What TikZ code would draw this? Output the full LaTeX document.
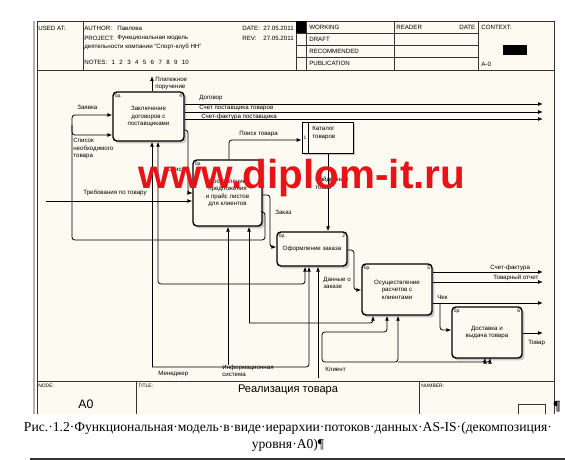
\documentclass[tikz,border=0pt]{standalone}
\usepackage{fontspec}
\setmainfont{Liberation Sans}
\newfontfamily\capfont{Liberation Serif}
\usetikzlibrary{arrows.meta,shadows}

\definecolor{paper}{RGB}{253,250,242}
\definecolor{wmred}{RGB}{233,18,24}
\newcommand\smallfnt{\fontsize{3.5}{4.3}\selectfont}
\newcommand\tinyfnt{\fontsize{2.8}{3.4}\selectfont}

\tikzset{
  func/.style={draw, line width=0.8pt, rounded corners=2.2pt, fill=paper,
    align=center, font=\smallfnt, inner sep=1pt,
    drop shadow={shadow xshift=1.4pt, shadow yshift=-1.4pt, fill=gray!45, opacity=1}},
  fnum/.style={label={[font=\tinyfnt, inner sep=1.3pt, anchor=north east]north east:#1},
    label={[font=\tinyfnt, inner sep=1.3pt, anchor=north west]north west:0р.}},
  lbl/.style={font=\smallfnt, inner sep=0pt, align=left},
  hdr/.style={font=\smallfnt, inner sep=0pt, anchor=west},
  arr/.style={line width=0.45pt, rounded corners=1.6pt, -{Latex[length=2.8pt,width=2.2pt]}},
  frm/.style={line width=0.5pt, draw=black!80},
}

\begin{document}
\begin{tikzpicture}[x=0.02cm, y=-0.02cm]
\useasboundingbox (0,0) rectangle (565,460);
\fill[white] (0,0) rectangle (565,460);
\fill[paper] (37,21) rectangle (554,414);

% Рамка бланка
\draw[gray!60, line width=1.2pt] (34,21) -- (34,414);
\draw[frm] (37,414) -- (37,21) -- (554,21) -- (554,414);
\draw[frm] (37,70) -- (554,70);
\draw[frm] (37,381) -- (554,381);
\foreach \xx in {83,296,306,394,478} \draw[frm] (\xx,21) -- (\xx,70);
\foreach \yy in {33,45,57} \draw[frm] (296,\yy) -- (478,\yy);
\fill (296,21) rectangle (306,33);
\fill (503,45) rectangle (527,55);
\draw[frm] (136,381) -- (136,414);
\draw[frm] (419,381) -- (419,414);
\draw[frm] (518,414) |- (545,404) -- (545,414);

% Шапка
\node[hdr] (usedat) at (38,28) {USED AT:};
\node[hdr] (author) at (84,28) {AUTHOR:};
\node[hdr] (authv) at (117,28) {Павлова};
\node[hdr] (proj) at (84,38) {PROJECT:};
\node[hdr] (projv) at (117,38) {Функциональная модель};
\node[hdr] (projv2) at (84,47) {деятельности компании "Спорт-клуб НН"};
\node[hdr] (notes) at (84,62) {NOTES:\hspace{2.5pt}1\hspace{2.5pt}2\hspace{2.5pt}3\hspace{2.5pt}4\hspace{2.5pt}5\hspace{2.5pt}6\hspace{2.5pt}7\hspace{2.5pt}8\hspace{2.5pt}9\hspace{2.5pt}10};
\node[hdr] (date) at (242,28) {DATE:};
\node[hdr] (datev) at (263,28) {27.05.2011};
\node[hdr] (rev) at (242,38) {REV:};
\node[hdr] (revv) at (263,38) {27.05.2011};
\node[hdr] (working) at (309,27) {WORKING};
\node[hdr] (draft) at (309,39) {DRAFT};
\node[hdr] (recom) at (309,51) {RECOMMENDED};
\node[hdr] (publ) at (309,63) {PUBLICATION};
\node[hdr] (reader) at (396,27) {READER};
\node[hdr] (rdate) at (459,27) {DATE};
\node[hdr] (context) at (481,27) {CONTEXT:};
\node[hdr] (ctxnode) at (481,64) {A-0};

% Подвал
\node[hdr, font=\tinyfnt] (nodelbl) at (38,386) {NODE:};
\node[font=\fontsize{7}{8}\selectfont, inner sep=0pt] (nodenum) at (86,404) {A0};
\node[hdr, font=\tinyfnt] (titlelbl) at (138,386) {TITLE:};
\node[font=\fontsize{6.3}{7}\selectfont, inner sep=0pt] (title) at (288,390) {Реализация товара};
\node[hdr, font=\tinyfnt] (numlbl) at (421,386) {NUMBER:};
\node[font=\capfont\bfseries\fontsize{8}{9}\selectfont, inner sep=0pt] (pilcrow) at (557,407) {¶};

% Блоки
\node[func, fnum=4, minimum width=1.42cm, minimum height=0.98cm] (b1) at (148.5,116.5)
  {Заключение\\договоров с\\поставщиками};
\node[func, fnum=3, minimum width=1.38cm, minimum height=1.32cm] (b2) at (227.5,193)
  {Составление\\предложения\\и прайс листов\\для клиентов};
\node[func, line width=0.45pt, rounded corners=0pt, minimum width=1.02cm, minimum height=0.62cm] (cat) at (327.5,137.5) {};
\draw[line width=0.45pt] (308,0 |- cat.north) -- (308,0 |- cat.south);
\node[font=\tinyfnt, inner sep=0pt] (catnum) at (305,138) {1};
\node[lbl, anchor=north west] (cattxt) at (312,126) {Каталог\\товаров};
\node[func, fnum=2, minimum width=1.4cm, minimum height=0.68cm] (b4) at (312,249)
  {Оформление заказа};
\node[func, fnum=5, minimum width=1.4cm, minimum height=1.02cm] (b5) at (397,289.5)
  {Осуществление\\расчетов с\\клиентами};
\node[func, fnum=6, minimum width=1.4cm, minimum height=1.02cm] (b6) at (487,332.5)
  {Доставка и\\выдача товара};

% Выходы блока 1
\coordinate (pay) at (152,76);
\draw[arr] (b1.north -| pay) -- (pay);
\node[lbl, anchor=north west] (lpay) at (155,76.5) {Платежное\\поручение};
\coordinate (o1) at (543,104);
\coordinate (o2) at (543,112);
\coordinate (o3) at (543,119);
\draw[arr] (b1.east |- o1) -- (o1);
\draw[arr] (b1.east |- o2) -- (o2);
\draw[arr] (b1.east |- o3) -- (o3);
\node[lbl, anchor=west] (ldog) at (199,98) {Договор};
\node[lbl, anchor=west] (lsch) at (199,108) {Счет поставщика товаров};
\node[lbl, anchor=west] (lsf) at (201,116.5) {Счет-фактура поставщика};

% Входы слева
\draw[arr] (b2.east |- 0,212) -| (265,240) -| (72,115) -- (b1.west |- 0,115);
\draw[arr] (72,125) |- (b1.west |- 0,135);
\node[lbl, anchor=west] (lzay) at (77,107) {Заявка};
\node[lbl, anchor=north west] (lspn) at (73,138) {Список\\необходимого\\товара};
\coordinate (req) at (46,201);
\draw[arr] (req) -- (b2.west |- req);
\node[lbl, anchor=west] (lreq) at (83,193) {Требования по товару};
\draw[arr] (b1.east |- 0,130) -| (188,193) -- (b2.west |- 0,193);
\node[lbl, anchor=west] (lsp) at (167,169) {Список};

% Каталог
\draw[arr] (b2.north -| 229,0) |- (cat.west |- 0,140);
\node[lbl, anchor=west] (lpoisk) at (239,134) {Поиск товара};
\draw[arr] (cat.south -| 328,0) -- (b4.north -| 328,0);
\node[lbl, anchor=north west] (lnaid) at (315,177) {Найденный\\товар};

% Заказ и расчеты
\draw[arr] (b2.east |- 0,195) -| (270,247) -- (b4.west |- 0,247);
\node[lbl, anchor=west] (lzak) at (275,212) {Заказ};
\draw[arr] (b4.east |- 0,250) -| (354,290) -- (b5.west |- 0,290);
\node[lbl, anchor=north west] (ldan) at (323,276.5) {Данные о\\заказе};
\coordinate (sf) at (543,272);
\coordinate (otch) at (543,282);
\coordinate (chk) at (543,303);
\draw[arr] (b5.east |- sf) -- (sf);
\draw[arr] (b5.east |- otch) -- (otch);
\draw[arr] (b5.east |- chk) -- (chk);
\draw[arr] (440,303) |- (b6.west |- 0,330);
\node[lbl, anchor=west] (lsf2) at (490,268) {Счет-фактура};
\node[lbl, anchor=west] (lotch) at (493,278) {Товарный отчет};
\node[lbl, anchor=west] (lchk) at (437,297) {Чек};
\coordinate (tov) at (543,333);
\draw[arr] (b6.east |- tov) -- (tov);
\node[lbl, anchor=west] (ltov) at (528,343) {Товар};

% Механизмы
\coordinate (mgr) at (152,367);
\draw[arr] (mgr) -- (mgr |- b1.south);
\draw[arr] (mgr) -| (309,0 |- b4.south);
\node[lbl, anchor=west] (lmgr) at (158,374) {Менеджер};
\coordinate (isys) at (228,365);
\draw[arr] (isys) -- (isys |- b2.south);
\draw[arr] (249,323) -- (249,0 |- b2.south);
\draw[arr] (249,284) -| (158,0 |- b1.south);
\draw[arr] (249,284) -| (305,0 |- b4.south);
\draw[arr] (249,323) -| (373,0 |- b5.south);
\node[lbl, anchor=north west] (lisys) at (222,364.5) {Информационная\\система};
\coordinate (cli) at (318,378);
\draw[arr] (cli) -- (cli |- b4.south);
\draw[arr] (322,346) |- (387,332) -- (387,0 |- b5.south);
\draw[arr] (322,346) |- (398,362) -- (398,0 |- b5.south);
\draw[arr] (398,362) -| (485,0 |- b6.south);
\draw[arr] (485,362) -| (490,0 |- b6.south);
\node[lbl, anchor=west] (lcli) at (325,369) {Клиент};

% Водяной знак
\node[font=\bfseries\fontsize{23}{23}\selectfont, text=wmred, anchor=base, inner sep=0pt] (wm) at (302,188) {www.diplom-it.ru};

% Подпись
\node[font=\capfont\fontsize{7.75}{9}\selectfont, anchor=base, inner sep=0pt] (cap1) at (288,431)
  {Рис.·1.2·Функциональная·модель·в·виде·иерархии·потоков·данных·AS-IS·(декомпозиция·};
\node[font=\capfont\fontsize{7.75}{9}\selectfont, anchor=base, inner sep=0pt] (cap2) at (288,448)
  {уровня·A0)¶};
\draw[black!80, line width=0.6pt] (30,459) -- (565,459);
\end{tikzpicture}
\end{document}
